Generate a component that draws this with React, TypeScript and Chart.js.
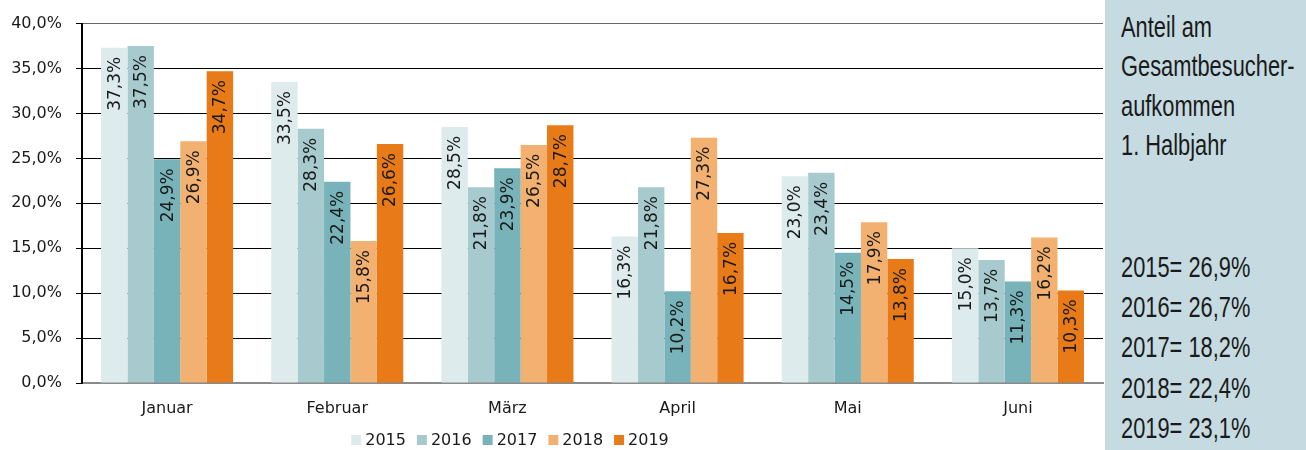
import React, { useEffect, useRef } from "react";
import { Chart, registerables } from "chart.js";
Chart.register(...registerables);

const categories = ["Januar", "Februar", "März", "April", "Mai", "Juni"];
const seriesNames = ["2015", "2016", "2017", "2018", "2019"];
const values2015 = [37.3, 33.5, 28.5, 16.3, 23.0, 15.0];
const values2016 = [37.5, 28.3, 21.8, 21.8, 23.4, 13.7];
const values2017 = [24.9, 22.4, 23.9, 10.2, 14.5, 11.3];
const values2018 = [26.9, 15.8, 26.5, 27.3, 17.9, 16.2];
const values2019 = [34.7, 26.6, 28.7, 16.7, 13.8, 10.3];
const seriesValues = [values2015, values2016, values2017, values2018, values2019];
const seriesColors = ["#DDEBEC", "#A7CACE", "#78B3BA", "#F2B171", "#E87B17"];
const yMin = 0;
const yMax = 40;
const yStep = 5;
const panelTitle = ["Anteil am", "Gesamtbesucher-", "aufkommen", "1. Halbjahr"];
const panelTotals = ["2015= 26,9%", "2016= 26,7%", "2017= 18,2%", "2018= 22,4%", "2019= 23,1%"];

const TEXT = "#1a1a1a";
const FONT = "'DejaVu Sans', Verdana, sans-serif";
const fmt = (v: number) => v.toFixed(1).replace(".", ",") + "%";

const barLabels = {
  id: "barLabels",
  afterDatasetsDraw(chart: any) {
    const ctx = chart.ctx;
    ctx.save();
    ctx.font = `17px ${FONT}`;
    ctx.fillStyle = TEXT;
    ctx.textAlign = "right";
    ctx.textBaseline = "middle";
    chart.data.datasets.forEach((ds: any, i: number) => {
      chart.getDatasetMeta(i).data.forEach((bar: any, j: number) => {
        const v = ds.data[j] as number;
        ctx.save();
        ctx.translate(bar.x + 1, bar.y + 9);
        ctx.rotate(-Math.PI / 2);
        ctx.fillText(fmt(v), 0, 0);
        ctx.restore();
      });
    });
    ctx.restore();
  },
};

const customLegend = {
  id: "customLegend",
  afterDraw(chart: any) {
    const ctx = chart.ctx;
    ctx.save();
    ctx.font = `16px ${FONT}`;
    ctx.textBaseline = "middle";
    ctx.textAlign = "left";
    const box = 10;
    const gapText = 4;
    const gapItem = 11;
    const widths = chart.data.datasets.map((d: any) => box + gapText + ctx.measureText(d.label).width);
    const total = widths.reduce((a: number, b: number) => a + b, 0) + gapItem * (widths.length - 1);
    let x = 510 - total / 2;
    const y = 440;
    chart.data.datasets.forEach((d: any, i: number) => {
      ctx.fillStyle = d.backgroundColor;
      ctx.fillRect(x, y - box / 2, box, box);
      ctx.fillStyle = TEXT;
      ctx.fillText(d.label, x + box + gapText, y + 1);
      x += widths[i] + gapItem;
    });
    ctx.restore();
  },
};

function BarChart() {
  const ref = useRef<HTMLCanvasElement | null>(null);
  useEffect(() => {
    if (!ref.current) return;
    const chart = new Chart(ref.current, {
      type: "bar",
      data: {
        labels: categories,
        datasets: seriesNames.map((name, i) => ({
          label: name,
          data: seriesValues[i],
          backgroundColor: seriesColors[i],
          borderWidth: 0,
          categoryPercentage: 0.776,
          barPercentage: 1,
        })),
      },
      options: {
        animation: false,
        responsive: false,
        maintainAspectRatio: false,
        layout: { padding: { top: 19, right: 3, bottom: 20, left: 0 } },
        plugins: { legend: { display: false }, tooltip: { enabled: false } },
        scales: {
          x: {
            grid: { display: false },
            border: { display: true, color: "#8a8a8a", width: 2 },
            ticks: { color: TEXT, font: { family: FONT, size: 16 }, padding: 8 },
            afterFit: (s: any) => { s.height = 47; },
          },
          y: {
            min: yMin,
            max: yMax,
            ticks: {
              stepSize: yStep,
              color: TEXT,
              font: { family: FONT, size: 16 },
              padding: 14,
              callback: (v: any) => fmt(Number(v)),
            },
            grid: {
              color: (c: any) => (c.tick && c.tick.value === yMin ? "transparent" : c.tick && c.tick.value === yMax ? "#666" : "#000"),
              tickColor: "#000",
              tickLength: 6,
              lineWidth: 1,
            },
            border: { display: true, color: "#000", width: 2 },
            afterFit: (s: any) => { s.width = 82; },
          },
        },
      },
      plugins: [barLabels, customLegend],
    });
    return () => chart.destroy();
  }, []);
  return <canvas ref={ref} width={1106} height={450} style={{ position: "absolute", left: 0, top: 0 }} />;
}

const panelFont = "'Liberation Sans', Arial, sans-serif";

function Panel() {
  const line = (text: string, baseline: number, key: string) => (
    <div
      key={key}
      style={{
        position: "absolute",
        left: 16,
        top: baseline - 22,
        fontFamily: panelFont,
        fontSize: 26,
        lineHeight: "26px",
        whiteSpace: "nowrap",
        color: TEXT,
        transform: "scale(0.84, 1.12)",
        transformOrigin: "0 22px",
      }}
    >
      {text}
    </div>
  );
  return (
    <div style={{ position: "absolute", left: 1105, top: 0, width: 201, height: 450, background: "#C6DBE1" }}>
      {panelTitle.map((t, i) => line(t, 37 + i * 39.3, "t" + i))}
      {panelTotals.map((t, i) => line(t, 277 + i * 40.2, "s" + i))}
    </div>
  );
}

export default function App() {
  return (
    <div style={{ position: "fixed", left: 0, top: 0, width: 1306, height: 450, background: "#fff", overflow: "hidden" }}>
      <BarChart />
      <Panel />
    </div>
  );
}
